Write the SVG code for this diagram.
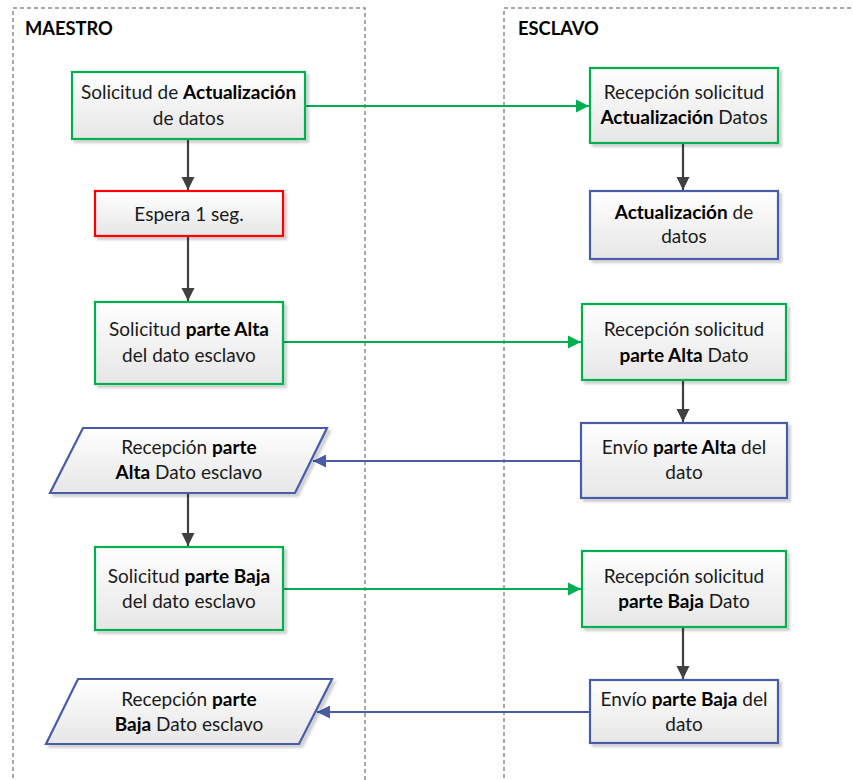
<svg xmlns="http://www.w3.org/2000/svg" width="853" height="780" viewBox="0 0 853 780">
  <style>
    .lane { fill: none; stroke: #8c8c8c; stroke-width: 1.5; stroke-dasharray: 4 3; }
    .title { font-family: Lato, "Liberation Sans", sans-serif; font-size: 18.3px; font-weight: bold; fill: #000; }
    .box { fill: url(#boxFill); stroke-width: 2.2; filter: url(#shadow); }
    .green { stroke: #00b050; }
    .red { stroke: #ff0000; }
    .blue { stroke: #4a5ba8; }
    .lbl { font-family: Lato, "Liberation Sans", sans-serif; font-size: 19px; fill: #1a1a1a; text-anchor: middle; }
    .b { font-weight: bold; fill: #000; }
    .flow { fill: none; stroke: #404040; stroke-width: 2.2; }
    .req { fill: none; stroke: #00b050; stroke-width: 2.2; }
    .resp { fill: none; stroke: #4a5ba8; stroke-width: 2; }
  </style>
  <defs>
    <linearGradient id="boxFill" x1="0" y1="0" x2="0" y2="1">
      <stop offset="0" stop-color="#ffffff"/>
      <stop offset="1" stop-color="#e6e6e6"/>
    </linearGradient>
    <filter id="shadow" x="-10%" y="-10%" width="130%" height="140%">
      <feDropShadow dx="3" dy="3" stdDeviation="1" flood-color="#000" flood-opacity="0.18"/>
    </filter>
    <marker id="arrDark" viewBox="0 0 10 10" refX="10" refY="5" markerWidth="6" markerHeight="6" markerUnits="strokeWidth" orient="auto">
      <path d="M0,0 L10,5 L0,10 z" fill="#404040"/>
    </marker>
    <marker id="arrGreen" viewBox="0 0 10 10" refX="10" refY="5" markerWidth="6" markerHeight="6" markerUnits="strokeWidth" orient="auto">
      <path d="M0,0 L10,5 L0,10 z" fill="#00b050"/>
    </marker>
    <marker id="arrBlue" viewBox="0 0 10 10" refX="10" refY="5" markerWidth="6.5" markerHeight="6.5" markerUnits="strokeWidth" orient="auto">
      <path d="M0,0 L10,5 L0,10 z" fill="#4a5ba8"/>
    </marker>
  </defs>

  <rect width="853" height="780" fill="#ffffff"/>

  <!-- swimlanes -->
  <g id="lane-maestro">
    <path class="lane" d="M13,785 L13,8 L365,8 L365,785"/>
    <text class="title" x="25" y="35">MAESTRO</text>
  </g>
  <g id="lane-esclavo">
    <path class="lane" d="M504,785 L504,8 L860,8"/>
    <text class="title" x="518" y="35">ESCLAVO</text>
  </g>

  <!-- connectors -->
  <g id="connectors">
    <path class="flow" d="M188,139 L188,190" marker-end="url(#arrDark)"/>
    <path class="flow" d="M188,236 L188,301" marker-end="url(#arrDark)"/>
    <path class="flow" d="M188,493 L188,546" marker-end="url(#arrDark)"/>
    <path class="flow" d="M683,143 L683,190" marker-end="url(#arrDark)"/>
    <path class="flow" d="M683,380 L683,422" marker-end="url(#arrDark)"/>
    <path class="flow" d="M683,627 L683,679" marker-end="url(#arrDark)"/>
    <path class="req" d="M305,106 L589,106" marker-end="url(#arrGreen)"/>
    <path class="req" d="M283,342 L581,342" marker-end="url(#arrGreen)"/>
    <path class="req" d="M283,589 L581,589" marker-end="url(#arrGreen)"/>
    <path class="resp" d="M581,461 L313,461" marker-end="url(#arrBlue)"/>
    <path class="resp" d="M590,712 L317,712" marker-end="url(#arrBlue)"/>
  </g>

  <!-- master side -->
  <g id="m-solicitud-actualizacion">
    <rect class="box green" x="72" y="72" width="233" height="67"/>
    <text class="lbl" x="188.5" y="99">Solicitud de <tspan class="b">Actualización</tspan></text>
    <text class="lbl" x="188.5" y="125">de datos</text>
  </g>
  <g id="m-espera">
    <rect class="box red" x="95" y="191" width="188" height="45"/>
    <text class="lbl" x="189" y="221">Espera 1 seg.</text>
  </g>
  <g id="m-solicitud-alta">
    <rect class="box green" x="95" y="302" width="188" height="82"/>
    <text class="lbl" x="189" y="336">Solicitud <tspan class="b">parte Alta</tspan></text>
    <text class="lbl" x="189" y="362">del dato esclavo</text>
  </g>
  <g id="m-recepcion-alta">
    <path class="box blue" d="M83,428 L327,428 L295,493 L50,493 Z"/>
    <text class="lbl" x="189" y="454">Recepción <tspan class="b">parte</tspan></text>
    <text class="lbl" x="189" y="479"><tspan class="b">Alta</tspan> Dato esclavo</text>
  </g>
  <g id="m-solicitud-baja">
    <rect class="box green" x="95" y="547" width="188" height="83"/>
    <text class="lbl" x="189" y="583">Solicitud <tspan class="b">parte Baja</tspan></text>
    <text class="lbl" x="189" y="608">del dato esclavo</text>
  </g>
  <g id="m-recepcion-baja">
    <path class="box blue" d="M78,679 L332,679 L299,744 L46,744 Z"/>
    <text class="lbl" x="189" y="706">Recepción <tspan class="b">parte</tspan></text>
    <text class="lbl" x="189" y="731"><tspan class="b">Baja</tspan> Dato esclavo</text>
  </g>

  <!-- slave side -->
  <g id="s-recepcion-actualizacion">
    <rect class="box green" x="590" y="68" width="188" height="75"/>
    <text class="lbl" x="684" y="99">Recepción solicitud</text>
    <text class="lbl" x="684" y="124"><tspan class="b">Actualización</tspan> Datos</text>
  </g>
  <g id="s-actualizacion">
    <rect class="box blue" x="590" y="191" width="188" height="68"/>
    <text class="lbl" x="684" y="219"><tspan class="b">Actualización</tspan> de</text>
    <text class="lbl" x="684" y="243">datos</text>
  </g>
  <g id="s-recepcion-alta">
    <rect class="box green" x="582" y="304" width="204" height="76"/>
    <text class="lbl" x="684" y="336">Recepción solicitud</text>
    <text class="lbl" x="684" y="362"><tspan class="b">parte Alta</tspan> Dato</text>
  </g>
  <g id="s-envio-alta">
    <rect class="box blue" x="581" y="423" width="206" height="75"/>
    <text class="lbl" x="684" y="454">Envío <tspan class="b">parte Alta</tspan> del</text>
    <text class="lbl" x="684" y="479">dato</text>
  </g>
  <g id="s-recepcion-baja">
    <rect class="box green" x="582" y="551" width="204" height="76"/>
    <text class="lbl" x="684" y="583">Recepción solicitud</text>
    <text class="lbl" x="684" y="608"><tspan class="b">parte Baja</tspan> Dato</text>
  </g>
  <g id="s-envio-baja">
    <rect class="box blue" x="590" y="680" width="188" height="63"/>
    <text class="lbl" x="684" y="706">Envío <tspan class="b">parte Baja</tspan> del</text>
    <text class="lbl" x="684" y="731">dato</text>
  </g>
</svg>
